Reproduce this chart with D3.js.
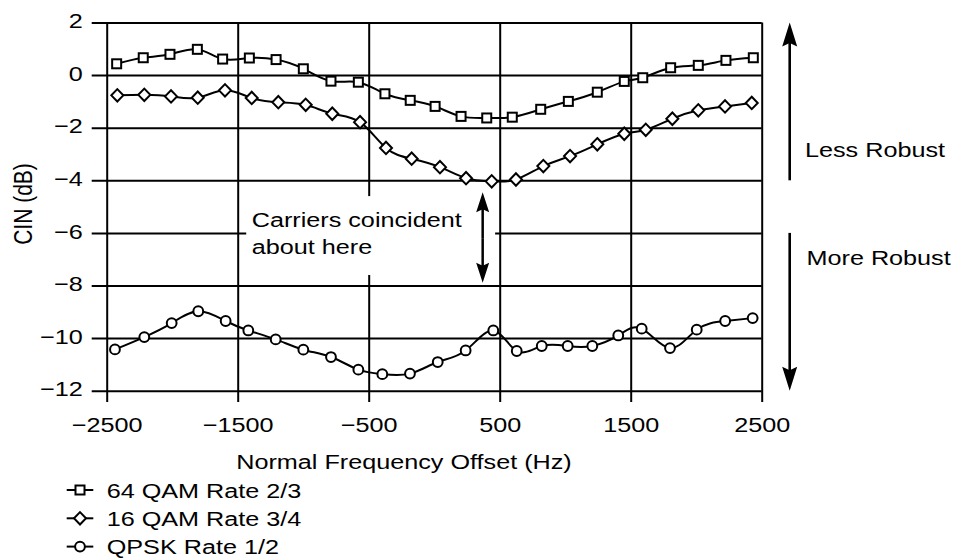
<!DOCTYPE html>
<html lang="en">
    <head>
        <meta charset="utf-8">
        <title>CIN vs frequency offset</title>
        <script src="https://d3js.org/d3.v7.min.js"></script>
        <style type="text/css">
            body { margin: 0; background: #fff; }
            text { font-family: "Liberation Sans", Arial, sans-serif; font-size: 21px; fill: #000; }
        </style>
    </head>
    <body>
        <script type="text/javascript">
            // values
            var xTicks = [-2500, -1500, -500, 500, 1500, 2500];
            var yTicks = [2, 0, -2, -4, -6, -8, -10, -12];

            var freq64 = [-2424, -2221, -2017, -1808, -1615, -1411, -1207, -999, -788, -579, -376, -183, 7, 205, 401, 596, 813, 1024, 1245, 1451, 1592, 1805, 2016, 2227, 2436];
            var cin64 = [0.43, 0.66, 0.79, 0.98, 0.61, 0.65, 0.59, 0.24, -0.23, -0.27, -0.71, -0.96, -1.19, -1.57, -1.63, -1.60, -1.30, -1.0, -0.65, -0.24, -0.10, 0.28, 0.37, 0.56, 0.66];

            var freq16 = [-2419, -2213, -2009, -1805, -1597, -1393, -1190, -981, -778, -566, -368, -172, 44, 243, 439, 624, 833, 1037, 1245, 1451, 1615, 1818, 2016, 2220, 2424];
            var cin16 = [-0.77, -0.75, -0.81, -0.86, -0.58, -0.87, -1.03, -1.13, -1.47, -1.79, -2.77, -3.18, -3.50, -3.92, -4.04, -3.97, -3.46, -3.08, -2.63, -2.23, -2.08, -1.66, -1.34, -1.19, -1.06];

            var freqQ = [-2437, -2213, -2004, -1801, -1592, -1419, -1210, -999, -788, -579, -396, -185, 27, 240, 451, 630, 821, 1019, 1207, 1405, 1584, 1800, 2004, 2221, 2431];
            var cinQ = [-10.43, -9.96, -9.43, -8.98, -9.35, -9.71, -10.05, -10.44, -10.72, -11.2, -11.37, -11.35, -10.91, -10.47, -9.71, -10.49, -10.30, -10.30, -10.30, -9.90, -9.64, -10.38, -9.68, -9.35, -9.24];

            var seriesNames = ["64 QAM Rate 2/3", "16 QAM Rate 3/4", "QPSK Rate 1/2"];

            // the text in the picture is a bit wider than normal
            var sx = 1.2;

            var margin = {top: 22.5, left: 106.7},
                width = 655,
                height = 368.2;

            var svg = d3.select("body").append("svg")
                .attr("width", 960)
                .attr("height", 559);

            var x = d3.scaleLinear().domain([-2500, 2500]).range([margin.left, margin.left + width]);
            var y = d3.scaleLinear().domain([-12, 2]).range([margin.top + height, margin.top]);

            var fmt = function(d) { return d < 0 ? "\u2212" + Math.abs(d) : "" + d; };

            // horizontal grid + y ticks
            var yAxis = svg.append("g")
                .attr("transform", "translate(" + margin.left + ",0)")
                .call(d3.axisLeft(y).tickValues(yTicks).tickSize(-width).tickFormat(fmt));
            yAxis.select(".domain").remove();
            yAxis.selectAll("line").attr("x1", -15).attr("stroke", "#000").attr("stroke-width", 2);
            yAxis.selectAll("text")
                .attr("x", 0).attr("dy", "0.25em")
                .attr("transform", "translate(-24,0) scale(" + sx + ",1)")
                .style("font-size", "21px").style("font-family", "Liberation Sans, Arial, sans-serif");

            // vertical grid + x ticks
            var xAxis = svg.append("g")
                .attr("transform", "translate(0," + (margin.top + height) + ")")
                .call(d3.axisBottom(x).tickValues(xTicks).tickSize(-height).tickFormat(fmt));
            xAxis.select(".domain").remove();
            xAxis.selectAll("line").attr("y1", 11.3).attr("stroke", "#000").attr("stroke-width", 2);
            xAxis.selectAll("text")
                .attr("y", 0).attr("dy", 0)
                .attr("transform", "translate(0,41) scale(" + sx + ",1)")
                .style("font-size", "21px").style("font-family", "Liberation Sans, Arial, sans-serif");

            // white box behind the annotation
            svg.append("rect")
                .attr("x", x(-1435)).attr("y", y(-4.6))
                .attr("width", x(465) - x(-1435)).attr("height", y(-7.6) - y(-4.6))
                .attr("fill", "#fff");

            function label(px, py, txt, anchor) {
                return svg.append("text")
                    .attr("transform", "translate(" + px + "," + py + ") scale(" + sx + ",1)")
                    .attr("text-anchor", anchor || "start")
                    .text(txt);
            }

            label(251.7, 226.7, "Carriers coincident");
            label(251.7, 253.5, "about here");
            label(404, 469, "Normal Frequency Offset (Hz)", "middle");
            label(805, 156.7, "Less Robust");
            label(806.5, 265, "More Robust");

            svg.append("text")
                .attr("transform", "translate(31.5,204) rotate(-90) scale(1," + sx + ")")
                .attr("text-anchor", "middle")
                .text("CIN (dB)");

            // arrows
            function arrow(x0, yFrom, yTip, headLen, headW, sw) {
                var dir = yTip < yFrom ? 1 : -1;
                svg.append("line")
                    .attr("x1", x0).attr("x2", x0)
                    .attr("y1", yFrom).attr("y2", yTip + dir * headLen * 0.8)
                    .attr("stroke", "#000").attr("stroke-width", sw);
                svg.append("path")
                    .attr("d", "M" + x0 + "," + yTip +
                        "L" + (x0 - headW / 2) + "," + (yTip + dir * headLen) +
                        "L" + x0 + "," + (yTip + dir * headLen * 0.85) +
                        "L" + (x0 + headW / 2) + "," + (yTip + dir * headLen) + "Z")
                    .attr("fill", "#000");
            }

            var ax = x(370);
            arrow(ax, y(-6.2), y(-4.45), 20, 13, 2.5);
            arrow(ax, y(-6.2), y(-7.9), 20, 13, 2.5);

            var rx = x(2500) + 28;
            arrow(rx, y(-4), y(2), 24, 15, 2.6);
            arrow(rx, y(-6), y(-12), 24, 15, 2.6);

            // series
            var series = [
                {name: seriesNames[0], xs: freq64, ys: cin64, marker: "square"},
                {name: seriesNames[1], xs: freq16, ys: cin16, marker: "diamond"},
                {name: seriesNames[2], xs: freqQ, ys: cinQ, marker: "circle"}
            ];

            var line = d3.line()
                .x(function(d) { return x(d[0]); })
                .y(function(d) { return y(d[1]); })
                .curve(d3.curveNatural);

            function drawMarker(g, type, cx, cy) {
                if (type == "square") {
                    g.append("rect").attr("x", cx - 4.5).attr("y", cy - 4.5).attr("width", 9).attr("height", 9)
                        .attr("fill", "#fff").attr("stroke", "#000").attr("stroke-width", 2);
                } else if (type == "diamond") {
                    g.append("path")
                        .attr("d", "M" + cx + "," + (cy - 6.2) + "L" + (cx + 6) + "," + cy + "L" + cx + "," + (cy + 6.2) + "L" + (cx - 6) + "," + cy + "Z")
                        .attr("fill", "#fff").attr("stroke", "#000").attr("stroke-width", 2);
                } else {
                    g.append("circle").attr("cx", cx).attr("cy", cy).attr("r", 4.9)
                        .attr("fill", "#fff").attr("stroke", "#000").attr("stroke-width", 2);
                }
            }

            series.forEach(function(s, i) {
                var pts = s.xs.map(function(v, k) { return [v, s.ys[k]]; });
                var g = svg.append("g");
                g.append("path").datum(pts)
                    .attr("d", line)
                    .attr("fill", "none").attr("stroke", "#000").attr("stroke-width", 2);
                pts.forEach(function(p) { drawMarker(g, s.marker, x(p[0]), y(p[1])); });

                // legend row
                var ly = 490 + i * 28.3;
                svg.append("line").attr("x1", 66.7).attr("x2", 93.3).attr("y1", ly).attr("y2", ly)
                    .attr("stroke", "#000").attr("stroke-width", 2);
                drawMarker(svg, s.marker, 80, ly);
                label(106.7, ly + 7.5, s.name);
            });
        </script>
    </body>
</html>
